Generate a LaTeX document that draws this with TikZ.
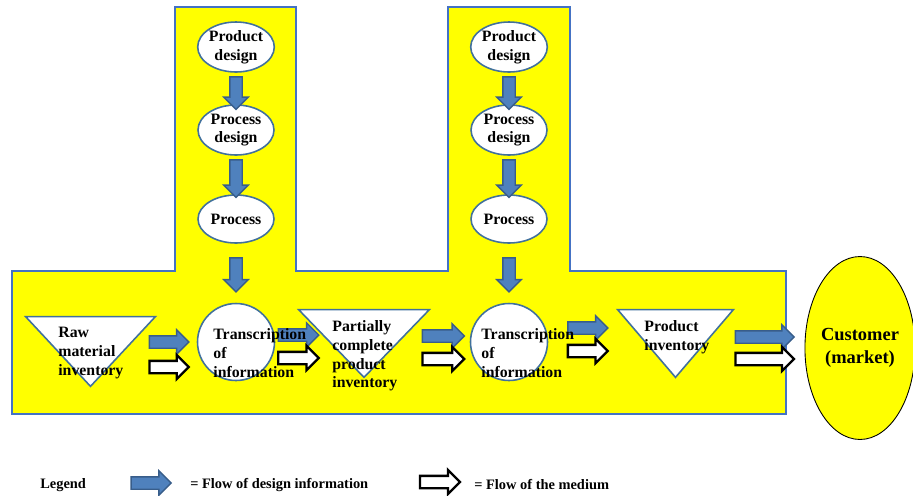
\documentclass[tikz,border=0pt]{standalone}
\usepackage{fontspec}
\setmainfont{Liberation Serif}
\usetikzlibrary{shapes.geometric, shapes.arrows, calc, positioning}

\definecolor{zoneyellow}{HTML}{FFFF00}
\definecolor{zoneline}{HTML}{4472C4}
\definecolor{shapeline}{HTML}{41719C}
\definecolor{infoblue}{HTML}{4F81BD}
\definecolor{infoline}{HTML}{385D8A}

\newcommand\lblfont{\fontsize{9}{10.6}\selectfont\bfseries}
\newcommand\lgdfont{\fontsize{8.2}{9.5}\selectfont\bfseries}

% block arrow laid from one point to another: name, style, from, to
\newcommand\flowarrow[4]{%
  \path let \p1=#3, \p2=#4,
    \n1={veclen(\x2-\x1,\y2-\y1)}, \n2={atan2(\y2-\y1,\x2-\x1)} in
    node[#2, minimum height=\n1, rotate=\n2] (#1) at ($(\p1)!0.5!(\p2)$) {};%
}

\begin{document}
\begin{tikzpicture}[
    x=0.02cm, y=-0.02cm,
    zone/.style={fill=zoneyellow, draw=zoneline, line width=0.6pt},
    design/.style={ellipse, draw=shapeline, fill=white, line width=0.9pt,
                   minimum width=1.52cm, minimum height=1cm, inner sep=0pt,
                   align=center, font=\lblfont},
    transcr/.style={circle, draw=shapeline, fill=white, line width=0.9pt,
                    minimum size=1.54cm, inner sep=0pt},
    stock/.style={rectangle, draw=none, inner sep=0pt},
    tri/.style={draw=shapeline, fill=white, line width=0.9pt, line join=miter},
    market/.style={ellipse, draw=black, fill=zoneyellow, line width=0.5pt,
                   minimum width=2.02cm, minimum height=3.66cm, inner sep=0pt,
                   align=center, font=\fontsize{10.5}{13}\selectfont\bfseries},
    lbl/.style={font=\lblfont, align=left, inner sep=0pt},
    lgd/.style={font=\lgdfont, align=left, inner sep=0pt},
    infoflow/.style={single arrow, single arrow head extend=0.12cm,
                     inner xsep=0pt, inner ysep=0.11cm,
                     fill=infoblue, draw=infoline, line width=0.8pt},
    mediumflow/.style={single arrow, single arrow head extend=0.12cm,
                       inner xsep=0pt, inner ysep=0.1cm,
                       fill=white, draw=black, line width=1.3pt}
]
\useasboundingbox (0,0) rectangle (913,495);

% yellow area
\draw[zone] (12,271) -- (175,271) -- (175,7) -- (296,7) -- (296,271) -- (448,271)
  -- (448,7) -- (570,7) -- (570,271) -- (786,271) -- (786,414) -- (12,414) -- cycle;

% design columns
\node[design] (pd1) at (236,47) {Product\\design};
\node[design] (psd1) at (236,130) {Process\\design};
\node[design, minimum height=0.96cm] (pr1) at (236,219) {Process};
\node[design] (pd2) at (509,47) {Product\\design};
\node[design] (psd2) at (509,130) {Process\\design};
\node[design, minimum height=0.96cm] (pr2) at (509,219) {Process};

% production line
\node[stock, minimum width=2.58cm, minimum height=1.38cm] (raw) at (90.5,351.5) {};
\draw[tri] (raw.north west) -- (raw.north east) -- (raw.south) -- cycle;
\node[transcr] (tr1) at (236,342) {};
\node[stock, minimum width=2.6cm, minimum height=1.34cm] (part) at (364,343.5) {};
\draw[tri] (part.north west) -- (part.north east) -- (part.south) -- cycle;
\node[transcr] (tr2) at (509,342) {};
\node[stock, minimum width=2.3cm, minimum height=1.34cm] (prod) at (675.5,343.5) {};
\draw[tri] (prod.north west) -- (prod.north east) -- (prod.south) -- cycle;
\node[market] (cust) at (860,348) {Customer\\(market)};

% design information, downwards
\flowarrow{a1}{infoflow}{($(pd1.south)+(0,1)$)}{($(psd1.north)+(0,2)$)}
\flowarrow{a2}{infoflow}{($(psd1.south)+(0,1)$)}{(pr1.north)}
\flowarrow{a3}{infoflow}{($(pr1.south)+(0,11)$)}{($(tr1.north)+(0,-14)$)}
\flowarrow{b1}{infoflow}{($(pd2.south)+(0,1)$)}{($(psd2.north)+(0,2)$)}
\flowarrow{b2}{infoflow}{($(psd2.south)+(0,1)$)}{(pr2.north)}
\flowarrow{b3}{infoflow}{($(pr2.south)+(0,11)$)}{($(tr2.north)+(0,-14)$)}

% design information and medium, rightwards
\flowarrow{i1}{infoflow}{($(raw.east)+(-9,-9.5)$)}{($(tr1.west)+(-11,0)$)}
\flowarrow{m1}{mediumflow}{($(raw.east)+(-9,15.5)$)}{($(tr1.west)+(-11,25)$)}
\flowarrow{i2}{infoflow}{($(tr1.east)+(0,-7)$)}{($(part.west)+(17,-8.5)$)}
\flowarrow{m2}{mediumflow}{($(tr1.east)+(0,16)$)}{($(part.west)+(17,14.5)$)}
\flowarrow{i3}{infoflow}{($(part.east)+(-10,-7.5)$)}{($(tr2.west)+(-8.5,-6)$)}
\flowarrow{m3}{mediumflow}{($(part.east)+(-10,15.5)$)}{($(tr2.west)+(-8.5,17)$)}
\flowarrow{i4}{infoflow}{($(tr2.east)+(16.5,-14)$)}{($(prod.west)+(-13,-15.5)$)}
\flowarrow{m4}{mediumflow}{($(tr2.east)+(16.5,9)$)}{($(prod.west)+(-13,7.5)$)}
\flowarrow{i5}{infoflow}{($(prod.east)+(-1,-6.5)$)}{($(cust.west)+(-13.5,-11)$)}
\flowarrow{m5}{mediumflow}{($(prod.east)+(-1,15.5)$)}{($(cust.west)+(-13.5,11)$)}

% texts over the shapes
\node[lbl, anchor=west] (rawtxt) at (58,353) {Raw\\material\\inventory};
\node[lbl, anchor=west] (tr1txt) at (213,353) {Transcription\\of\\information};
\node[lbl, anchor=west] (parttxt) at (332,356) {Partially\\complete\\product\\inventory};
\node[lbl, anchor=west] (tr2txt) at (481,353) {Transcription\\of\\information};
\node[lbl, anchor=west] (prodtxt) at (644,337) {Product\\inventory};

% legend
\node[lgd, anchor=west] (legend) at (40,485) {Legend};
\node[infoflow, minimum height=0.8cm] (keyinfo) at (148,483) {};
\node[lgd, anchor=west] (keyinfotxt) at (190,485) {= Flow of design information};
\node[mediumflow, minimum height=0.8cm] (keymedium) at (437,482) {};
\node[lgd, anchor=west] (keymediumtxt) at (474,485) {= Flow of the medium};
\end{tikzpicture}
\end{document}
